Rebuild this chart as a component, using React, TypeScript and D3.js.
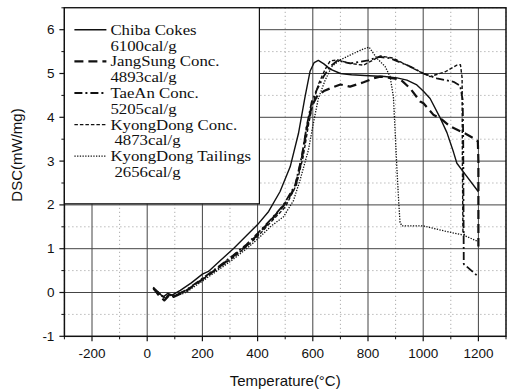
import React from "react";
import * as d3 from "d3";

// DSC curves: [temperature °C, DSC mW/mg]
const chibaCokes: [number, number][] = [
  [22, 0.12], [40, 0.0], [58, -0.1], [75, -0.02], [90, -0.06], [120, 0.05], [160, 0.22],
  [200, 0.42], [222, 0.48], [260, 0.7], [312, 1.0], [360, 1.3], [400, 1.55], [440, 1.85],
  [481, 2.3], [518, 2.87], [548, 3.63], [572, 4.47], [590, 5.05], [605, 5.25], [620, 5.3],
  [640, 5.22], [663, 5.1], [700, 5.0], [740, 4.97], [804, 4.95], [860, 4.93], [905, 4.9],
  [941, 4.85], [977, 4.74], [1000, 4.6], [1025, 4.43], [1062, 3.98], [1086, 3.65],
  [1110, 3.2], [1122, 2.95], [1140, 2.8], [1200, 2.3],
];

const jangSung: [number, number][] = [
  [22, 0.1], [40, -0.05], [62, -0.18], [80, -0.06], [95, -0.1], [140, 0.03], [200, 0.3],
  [250, 0.53], [312, 0.83], [360, 1.07], [400, 1.32], [450, 1.66], [494, 1.98], [536, 2.4],
  [560, 3.05], [578, 3.75], [596, 4.25], [614, 4.47], [640, 4.6], [663, 4.66], [700, 4.75],
  [735, 4.7], [784, 4.8], [820, 4.89], [844, 4.93], [893, 4.89], [920, 4.85], [953, 4.66],
  [989, 4.36], [1001, 4.32], [1038, 4.05], [1062, 3.98], [1098, 3.79], [1146, 3.65],
  [1189, 3.5], [1198, 3.45], [1200, 3.0], [1200, 1.05],
];

const taeAn: [number, number][] = [
  [22, 0.1], [45, -0.02], [65, -0.15], [80, -0.05], [95, -0.08], [140, 0.05], [200, 0.32],
  [250, 0.55], [312, 0.85], [360, 1.1], [400, 1.35], [450, 1.68], [494, 2.0], [536, 2.45],
  [560, 3.1], [578, 3.8], [596, 4.35], [614, 4.62], [639, 4.93], [663, 5.16], [690, 5.3],
  [735, 5.23], [800, 5.3], [840, 5.38], [880, 5.35], [953, 5.16], [1001, 5.0], [1049, 4.89],
  [1110, 4.81], [1134, 4.72], [1143, 4.4], [1145, 3.5], [1146, 2.0], [1147, 0.65], [1200, 0.36],
];

const kyongDongConc: [number, number][] = [
  [22, 0.08], [45, -0.03], [65, -0.12], [80, -0.04], [95, -0.08], [140, 0.04], [200, 0.3],
  [250, 0.52], [312, 0.8], [360, 1.05], [400, 1.28], [450, 1.62], [500, 1.95], [540, 2.45],
  [565, 3.1], [585, 3.85], [600, 4.3], [620, 4.75], [645, 5.1], [663, 5.29], [690, 5.31],
  [735, 5.23], [783, 5.19], [820, 5.31], [844, 5.4], [892, 5.35], [941, 5.19], [1001, 5.0],
  [1025, 4.93], [1080, 5.04], [1122, 5.19], [1135, 5.2], [1141, 4.9], [1142, 3.0],
  [1144, 1.4], [1150, 1.3],
];

const kyongDongTailings: [number, number][] = [
  [22, 0.1], [45, -0.02], [65, -0.14], [80, -0.06], [95, -0.1], [140, 0.0], [200, 0.26],
  [250, 0.48], [312, 0.76], [360, 1.0], [400, 1.22], [450, 1.52], [494, 1.73], [530, 2.1],
  [554, 2.57], [584, 3.25], [602, 3.86], [620, 4.43], [645, 4.85], [669, 5.16], [699, 5.31],
  [735, 5.42], [783, 5.56], [804, 5.6], [832, 5.35], [862, 5.16], [880, 4.93], [892, 4.47],
  [898, 3.71], [905, 2.8], [911, 2.1], [916, 1.6], [923, 1.52], [1001, 1.52], [1080, 1.4],
  [1146, 1.31], [1200, 1.16],
];

const seriesNames = [
  ["Chiba Cokes", "6100cal/g"],
  ["JangSung Conc.", "4893cal/g"],
  ["TaeAn Conc.", "5205cal/g"],
  ["KyongDong Conc.", "4873cal/g"],
  ["KyongDong Tailings", "2656cal/g"],
];
const seriesData = [chibaCokes, jangSung, taeAn, kyongDongConc, kyongDongTailings];

const xTicks = [-200, 0, 200, 400, 600, 800, 1000, 1200];
const yTicks = [-1, 0, 1, 2, 3, 4, 5, 6];

const styles = [
  { dash: "none", width: 1.4 },
  { dash: "9,5", width: 2.2 },
  { dash: "8,3,2,3", width: 1.8 },
  { dash: "3.5,2", width: 1.4 },
  { dash: "1.3,1.4", width: 1.3 },
];

const W = 507;
const H = 391;
const left = 64.4;
const right = 506;
const top = 7.8;
const bottom = 336.3;

export default function App() {
  const x = d3.scaleLinear().domain([-300, 1300]).range([left, right]);
  const y = d3.scaleLinear().domain([-1, 6.5]).range([bottom, top]);
  const line = d3
    .line<[number, number]>()
    .x((d) => x(d[0]))
    .y((d) => y(d[1]));

  const xMinor = d3.range(-300, 1301, 100).filter((v) => !xTicks.includes(v));
  const yMinor = d3.range(-0.5, 6.51, 1);

  const sans = "'Liberation Sans', Arial, sans-serif";
  const serif = "'Liberation Serif', 'Times New Roman', serif";

  const legendX = left;
  const legendY = top;
  const legendW = 195;
  const legendH = 196;
  const rowH = 15.8;
  const stretch = 1.12;

  return (
    <svg
      width={W}
      height={H}
      style={{ position: "absolute", left: 0, top: 0, background: "#fff" }}
    >
      <rect x={0} y={0} width={W} height={H} fill="#fff" />
      {/* minor grid */}
      {xMinor.map((v) => (
        <line key={"xm" + v} x1={x(v)} x2={x(v)} y1={top} y2={bottom}
          stroke="#999" strokeWidth={1} strokeDasharray="1,3" />
      ))}
      {yMinor.map((v) => (
        <line key={"ym" + v} x1={left} x2={right} y1={y(v)} y2={y(v)}
          stroke="#999" strokeWidth={1} strokeDasharray="1,3" />
      ))}
      {/* major grid */}
      {xTicks.map((v) => (
        <line key={"xg" + v} x1={x(v)} x2={x(v)} y1={top} y2={bottom}
          stroke="#444" strokeWidth={1} />
      ))}
      {yTicks.slice(1).map((v) => (
        <line key={"yg" + v} x1={left} x2={right} y1={y(v)} y2={y(v)}
          stroke="#444" strokeWidth={1} />
      ))}

      {/* curves */}
      {seriesData.map((d, i) => (
        <path key={"s" + i} d={line(d) || ""} fill="none" stroke="#111"
          strokeWidth={styles[i].width} strokeDasharray={styles[i].dash}
          strokeLinejoin="round" />
      ))}

      {/* frame */}
      <rect x={left} y={top} width={right - left} height={bottom - top}
        fill="none" stroke="#111" strokeWidth={1.5} />

      {/* ticks */}
      {xTicks.map((v) => (
        <line key={"xt" + v} x1={x(v)} x2={x(v)} y1={bottom} y2={bottom + 5}
          stroke="#111" strokeWidth={1.2} />
      ))}
      {xMinor.map((v) => (
        <line key={"xmt" + v} x1={x(v)} x2={x(v)} y1={bottom} y2={bottom + 3}
          stroke="#111" strokeWidth={1} />
      ))}
      {yTicks.map((v) => (
        <line key={"yt" + v} x1={left - 5} x2={left} y1={y(v)} y2={y(v)}
          stroke="#111" strokeWidth={1.2} />
      ))}
      {yMinor.map((v) => (
        <line key={"ymt" + v} x1={left - 3} x2={left} y1={y(v)} y2={y(v)}
          stroke="#111" strokeWidth={1} />
      ))}

      {/* tick labels */}
      {xTicks.map((v) => (
        <text key={"xl" + v} x={x(v)} y={bottom + 22} textAnchor="middle"
          fontFamily={sans} fontSize={13.5} fill="#111">{v}</text>
      ))}
      {yTicks.map((v) => (
        <text key={"yl" + v} x={left - 10} y={y(v) + 4.5} textAnchor="end"
          fontFamily={sans} fontSize={13.5} fill="#111">{v}</text>
      ))}

      {/* axis titles */}
      <text x={(left + right) / 2} y={386} textAnchor="middle" fontFamily={sans}
        fontSize={15} fill="#111">Temperature(°C)</text>
      <text transform={`translate(22,155) rotate(-90)`} textAnchor="middle"
        fontFamily={sans} fontSize={15} fill="#111">DSC(mW/mg)</text>

      {/* legend */}
      <rect x={legendX} y={legendY} width={legendW} height={legendH} fill="#fff"
        stroke="#111" strokeWidth={1.2} />
      {seriesNames.map((names, i) => {
        const cy = legendY + 27 + i * rowH * 2;
        const indent = i >= 3 ? 4 : 0;
        return (
          <g key={"lg" + i}>
            <line x1={legendX + 10} x2={legendX + 42} y1={cy - 5} y2={cy - 5}
              stroke="#111" strokeWidth={styles[i].width}
              strokeDasharray={styles[i].dash} />
            <text transform={`translate(${legendX + 46},${cy}) scale(${stretch},1)`}
              fontFamily={serif} fontSize={15} fill="#111">{names[0]}</text>
            <text transform={`translate(${legendX + 46 + indent},${cy + rowH}) scale(${stretch},1)`}
              fontFamily={serif} fontSize={15} fill="#111">{names[1]}</text>
          </g>
        );
      })}
    </svg>
  );
}
